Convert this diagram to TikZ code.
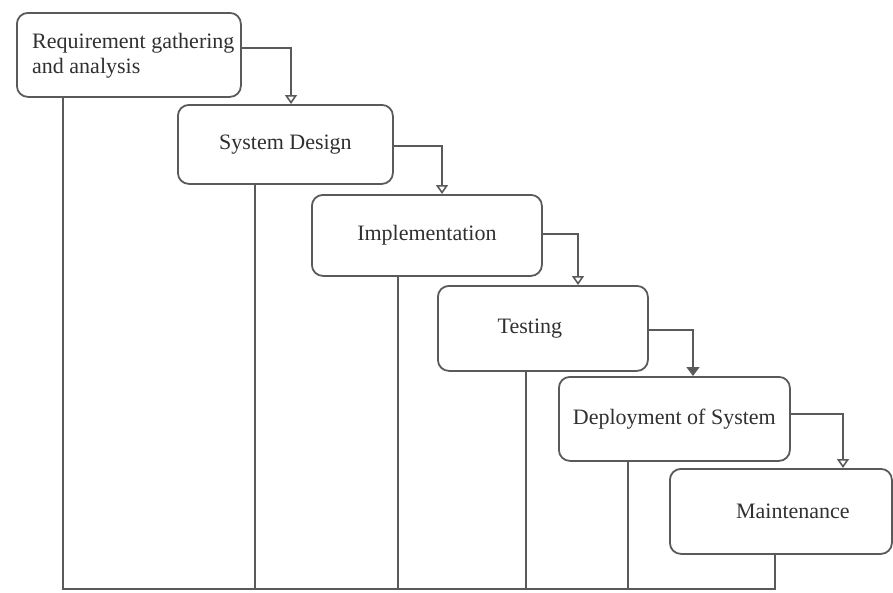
\documentclass[tikz,border=0pt]{standalone}
\usepackage{fontspec}
\setmainfont{Liberation Serif}
\usetikzlibrary{calc,arrows.meta}
\definecolor{ln}{HTML}{5A5A5A}
\definecolor{tx}{HTML}{303030}
\tikzset{
  box/.style={draw=ln, line width=1.8pt, rounded corners=11pt, anchor=north west,
    inner sep=0pt, text=tx, font=\fontsize{22}{25}\selectfont},
  link/.style={draw=ln, line width=1.6pt, -{Triangle[open,length=9pt,width=12pt]}},
  linkf/.style={draw=ln, line width=1.6pt, -{Triangle[length=9pt,width=13pt]}},
  rail/.style={draw=ln, line width=1.6pt}
}
\begin{document}
\begin{tikzpicture}[x=1pt,y=-1pt]
\useasboundingbox (0,0) rectangle (893,592);
\node[box, minimum width=224pt, minimum height=84pt] (b1) at (16,12) {};
\node[text=tx, font=\fontsize{22}{25}\selectfont, align=left, anchor=north west, inner sep=0pt] (t1) at (32,33) {Requirement gathering\\and analysis};
\node[box, minimum width=215pt, minimum height=79pt] (b2) at (177,104) {System Design};
\node[box, minimum width=230pt, minimum height=81pt] (b3) at (311,194) {Implementation};
\node[box, minimum width=210pt, minimum height=85pt] (b4) at (437,285) {Testing\hspace*{26pt}};
\node[box, minimum width=231pt, minimum height=84pt] (b5) at (558,376) {Deployment of System};
\node[box, minimum width=222pt, minimum height=85pt] (b6) at (669,468) {\hspace*{24pt}Maintenance};

\draw[link] ($(b1.north east)+(0,36)$) -| ($(b2.north west)+(114,0)$);
\draw[link] ($(b2.north east)+(0,42)$) -| ($(b3.north west)+(131,0)$);
\draw[link] ($(b3.north east)+(0,40)$) -| ($(b4.north west)+(141,0)$);
\draw[linkf] ($(b4.north east)+(0,45)$) -| ($(b5.north west)+(135,0)$);
\draw[link] ($(b5.north east)+(0,38)$) -| ($(b6.north west)+(174,0)$);

\coordinate (base) at (0,589);
\coordinate (f1) at ($(b1.south west)+(47,0)$);
\coordinate (f2) at ($(b2.south west)+(78,0)$);
\coordinate (f3) at ($(b3.south west)+(87,0)$);
\coordinate (f4) at ($(b4.south west)+(89,0)$);
\coordinate (f5) at ($(b5.south west)+(70,0)$);
\coordinate (f6) at ($(b6.south west)+(106,0)$);
\draw[rail] (f1) -- (f1 |- base);
\draw[rail] (f2) -- (f2 |- base);
\draw[rail] (f3) -- (f3 |- base);
\draw[rail] (f4) -- (f4 |- base);
\draw[rail] (f5) -- (f5 |- base);
\draw[rail] (f6) -- (f6 |- base);
\draw[rail] ([xshift=-0.8pt]f1 |- base) -- ([xshift=0.8pt]f6 |- base);
\end{tikzpicture}
\end{document}
